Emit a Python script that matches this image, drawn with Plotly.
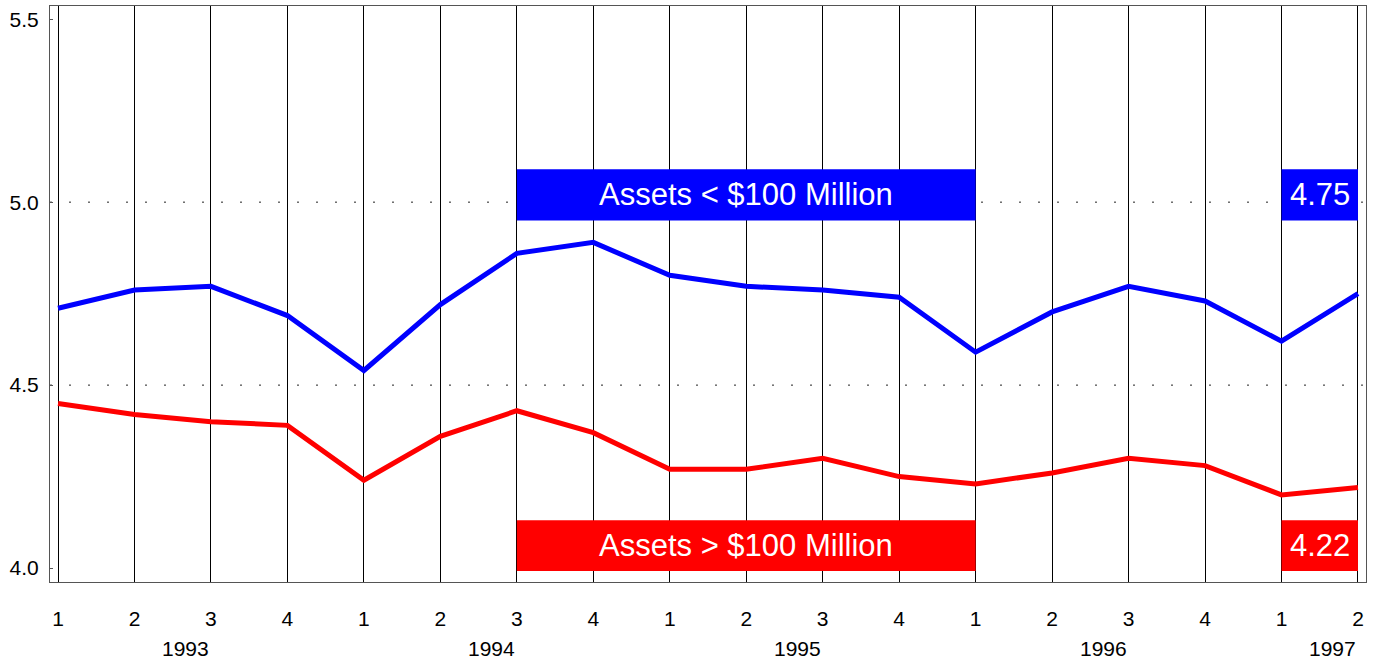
import plotly.graph_objects as go

# Quarterly series, Q1 1993 .. Q2 1997
quarters = ["1", "2", "3", "4", "1", "2", "3", "4", "1", "2", "3", "4",
            "1", "2", "3", "4", "1", "2"]
years = ["1993", "1994", "1995", "1996", "1997"]
year_last_quarter = [3, 7, 11, 15, 18]  # label right edge position

small_banks = [4.71, 4.76, 4.77, 4.69, 4.54, 4.72, 4.86, 4.89, 4.80,
               4.77, 4.76, 4.74, 4.59, 4.70, 4.77, 4.73, 4.62, 4.75]
large_banks = [4.45, 4.42, 4.40, 4.39, 4.24, 4.36, 4.43, 4.37, 4.27,
               4.27, 4.30, 4.25, 4.23, 4.26, 4.30, 4.28, 4.20, 4.22]

x = list(range(1, len(quarters) + 1))

BLUE = "#0000FF"
RED = "#FF0000"
FONT = "Liberation Sans, Arial, sans-serif"

fig = go.Figure()

fig.add_trace(go.Scatter(x=x, y=small_banks, mode="lines",
                         line=dict(color=BLUE, width=5), name="Assets < $100 Million"))
fig.add_trace(go.Scatter(x=x, y=large_banks, mode="lines",
                         line=dict(color=RED, width=5), name="Assets > $100 Million"))

# dotted reference lines
for yv in [4.5, 5.0]:
    fig.add_shape(type="line", xref="paper", yref="y", x0=0, x1=1, y0=yv, y1=yv,
                  line=dict(color="#222", width=1, dash="2px,17px"), layer="below")

# labelled boxes
boxes = [
    (7, 13, 4.95, 5.09, BLUE, "Assets < $100 Million"),
    (7, 13, 3.992, 4.131, RED, "Assets > $100 Million"),
    (17, 18, 4.95, 5.09, BLUE, f"{small_banks[-1]:.2f}"),
    (17, 18, 3.992, 4.131, RED, f"{large_banks[-1]:.2f}"),
]
for x0, x1, y0, y1, col, txt in boxes:
    fig.add_shape(type="rect", x0=x0, x1=x1, y0=y0, y1=y1,
                  fillcolor=col, line=dict(width=0), layer="above")
    fig.add_annotation(x=(x0 + x1) / 2, y=(y0 + y1) / 2, text=txt, showarrow=False,
                       font=dict(color="white", size=31, family=FONT))

for yr, q in zip(years, year_last_quarter):
    fig.add_annotation(x=q, y=-0.116, xref="x", yref="paper", text=yr,
                       showarrow=False, xanchor="right", yanchor="middle",
                       font=dict(size=21, color="black", family=FONT))

fig.update_layout(
    width=1377, height=661,
    margin=dict(l=50, r=11, t=6, b=79),
    paper_bgcolor="white", plot_bgcolor="white",
    showlegend=False,
    font=dict(family=FONT, size=21, color="black"),
)

fig.update_xaxes(
    range=[0.895, 18.105], tickvals=x, ticktext=quarters,
    showgrid=True, gridcolor="black", gridwidth=1,
    showline=True, linecolor="#555", linewidth=1, mirror=True,
    ticks="", ticklabelstandoff=18, zeroline=False,
)
fig.update_yaxes(
    range=[3.962, 5.536], tickvals=[4.0, 4.5, 5.0, 5.5],
    ticktext=["4.0", "4.5", "5.0", "5.5"],
    showgrid=False, showline=True, linecolor="#555", linewidth=1, mirror=True,
    ticks="inside", ticklen=3, tickcolor="#555", ticklabelstandoff=6, zeroline=False,
)

# drop the default page margin so the figure sits at the window's corner
fig.write_html("out.html",
               config={"displayModeBar": False},
               post_script="document.body.style.margin='0px';"
                           "document.body.style.overflow='hidden';")
